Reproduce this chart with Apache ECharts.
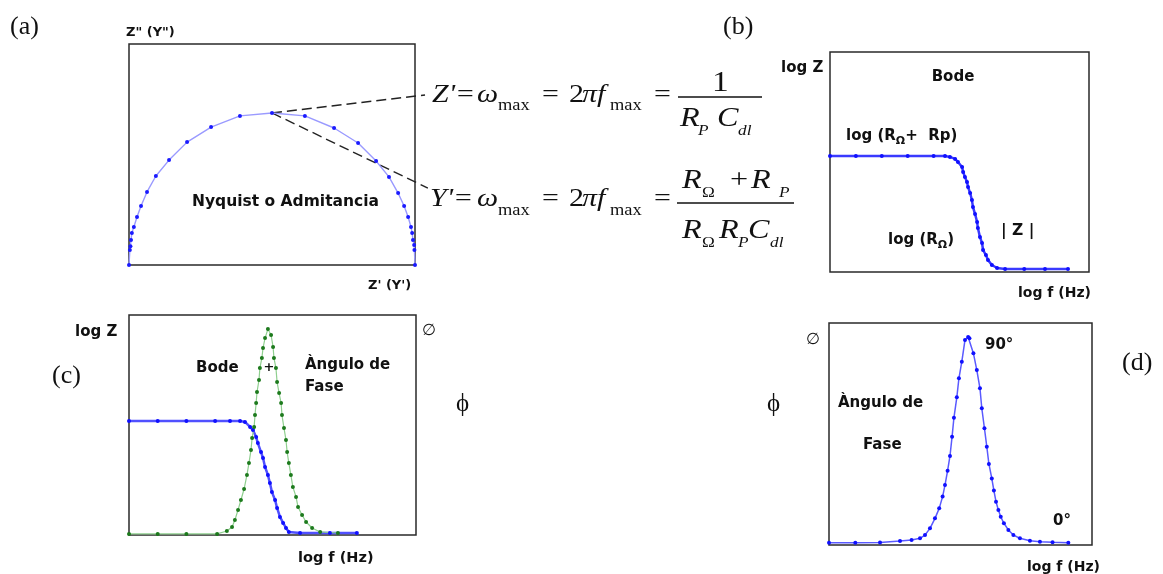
<!DOCTYPE html>
<html>
<head>
<meta charset="utf-8">
<script src="https://cdn.jsdelivr.net/npm/echarts@6/dist/echarts.min.js"></script>
<style>
html, body { margin: 0; padding: 0; background: #fff; }
#main { width: 1163px; height: 574px; }
</style>
</head>
<body>
<div id="main"></div>
<script>
// (a) Nyquist semicircle, [Z', Z'']
const nyquist = [
    [0, 0], [0.03, 0.51], [0.05, 0.64], [0.07, 0.85], [0.10, 1.09], [0.17, 1.29],
    [0.28, 1.63], [0.42, 2.00], [0.63, 2.48], [0.94, 3.02], [1.40, 3.56], [2.03, 4.17],
    [2.87, 4.68], [3.88, 5.06], [5.00, 5.16], [6.15, 5.06], [7.17, 4.65], [8.01, 4.14],
    [8.64, 3.53], [9.09, 2.99], [9.41, 2.44], [9.62, 2.00], [9.76, 1.63], [9.86, 1.29],
    [9.90, 1.09], [9.93, 0.85], [9.97, 0.68], [9.98, 0.51], [10, 0]
];
// dashed leaders from the top of the arc to the two formulas
const leaderZ = [[5.0, 5.16], [10.35, 5.77]];
const leaderY = [[5.0, 5.16], [10.45, 2.61]];

// (b) Bode |Z| vs log f
const bodeZ = [
    [0, 5.27], [1, 5.27], [2, 5.27], [3, 5.27], [4, 5.27], [4.44, 5.27], [4.63, 5.23],
    [4.83, 5.14], [4.94, 5.0], [5.10, 4.77], [5.14, 4.55], [5.21, 4.32], [5.29, 4.09],
    [5.33, 3.86], [5.41, 3.59], [5.48, 3.27], [5.52, 2.95], [5.60, 2.64], [5.68, 2.27],
    [5.71, 2.0], [5.79, 1.59], [5.87, 1.32], [5.91, 1.0], [6.02, 0.77], [6.10, 0.55],
    [6.25, 0.32], [6.45, 0.18], [6.76, 0.14], [7.5, 0.14], [8.3, 0.14], [9.19, 0.14]
];

// (c) Bode |Z| and phase angle together
const bodeZc = [
    [0, 5.18], [1, 5.18], [2, 5.18], [3, 5.18], [3.52, 5.18], [3.87, 5.18], [4.04, 5.14],
    [4.22, 4.91], [4.32, 4.77], [4.43, 4.45], [4.49, 4.18], [4.60, 3.77], [4.67, 3.5],
    [4.74, 3.09], [4.84, 2.73], [4.91, 2.36], [4.98, 1.95], [5.09, 1.59], [5.16, 1.23],
    [5.26, 0.82], [5.37, 0.55], [5.47, 0.32], [5.57, 0.14], [5.96, 0.09], [7.0, 0.09], [7.94, 0.09]
];
const phaseC = [
    [0, 0.05], [1, 0.05], [2, 0.05], [3.07, 0.05], [3.41, 0.18], [3.59, 0.36], [3.69, 0.68],
    [3.80, 1.14], [3.90, 1.59], [4.01, 2.09], [4.11, 2.73], [4.18, 3.27], [4.25, 3.86],
    [4.29, 4.41], [4.36, 4.91], [4.39, 5.45], [4.43, 6.0], [4.46, 6.5], [4.53, 7.05],
    [4.56, 7.59], [4.63, 8.05], [4.67, 8.5], [4.74, 8.95], [4.84, 9.36], [4.95, 9.09],
    [5.02, 8.55], [5.05, 8.05], [5.12, 7.59], [5.16, 6.95], [5.23, 6.45], [5.30, 6.0],
    [5.33, 5.45], [5.40, 4.86], [5.47, 4.32], [5.51, 3.77], [5.57, 3.27], [5.64, 2.73],
    [5.71, 2.18], [5.82, 1.73], [5.89, 1.27], [6.03, 0.91], [6.17, 0.59], [6.38, 0.32],
    [6.66, 0.14], [7.28, 0.09]
];

// (d) phase angle alone
const phaseD = [
    [0, 0.10], [1, 0.10], [1.94, 0.11], [2.70, 0.18], [3.14, 0.23], [3.46, 0.30], [3.65, 0.45],
    [3.84, 0.75], [4.03, 1.20], [4.19, 1.65], [4.32, 2.18], [4.41, 2.70], [4.51, 3.35],
    [4.60, 4.01], [4.68, 4.88], [4.75, 5.73], [4.86, 6.65], [4.94, 7.51], [5.05, 8.26],
    [5.17, 9.23], [5.29, 9.37], [5.34, 9.31], [5.49, 8.64], [5.62, 7.88], [5.74, 7.06],
    [5.81, 6.16], [5.91, 5.26], [6.00, 4.43], [6.08, 3.65], [6.19, 3.0], [6.27, 2.45],
    [6.35, 1.95], [6.44, 1.58], [6.53, 1.27], [6.65, 0.98], [6.82, 0.68], [7.01, 0.45],
    [7.26, 0.30], [7.64, 0.19], [8.02, 0.15], [8.5, 0.12], [9.10, 0.10]
];

const chart = echarts.init(document.getElementById('main'));

const SANS = '"DejaVu Sans", Verdana, sans-serif';
const SERIF = '"Liberation Serif", "Times New Roman", serif';

function txt(x, y, text, extra) {
    return {
        type: 'text', x: x, y: y, silent: true,
        style: Object.assign({
            text: text, fill: '#111', fontFamily: SANS, fontWeight: 'bold', fontSize: 15,
            align: 'left', verticalAlign: 'middle'
        }, extra || {})
    };
}
// one glyph group of a formula; it = italic
function m(x, y, text, size, it) {
    return {
        type: 'text', x: x, y: y, silent: true, scaleX: 1.15,
        style: {
            text: text, fill: '#111', fontFamily: SERIF, fontSize: size,
            fontStyle: it ? 'italic' : 'normal', align: 'left', verticalAlign: 'middle'
        }
    };
}
function bar(x1, x2, y) {
    return { type: 'line', silent: true, shape: { x1: x1, y1: y, x2: x2, y2: y },
        style: { stroke: '#111', lineWidth: 1.3 } };
}
const subRich = {
    b: { fontFamily: SANS, fontWeight: 'bold', fontSize: 15, lineHeight: 22, fill: '#111' },
    o: { fontFamily: SANS, fontWeight: 'bold', fontSize: 11, lineHeight: 11, verticalAlign: 'bottom', fill: '#111' }
};

// left half of a formula: "X'=ω_max = 2πf_max ="
function lhs(lead, x0, y, ySub) {
    return [
        m(x0, y, lead + '=', 26, true),
        m(477, y, 'ω', 26, true),
        m(498, ySub, 'max', 16, false),
        m(542, y, '=', 26, false),
        m(569, y, '2', 26, false),
        m(582, y, 'πf', 26, true),
        m(610, ySub, 'max', 16, false),
        m(654, y, '=', 26, false)
    ];
}

function grid(left, top, width, height, show) {
    return { left: left, top: top, width: width, height: height, show: show,
        borderColor: '#2a2a2a', borderWidth: 1.5, backgroundColor: 'transparent' };
}
function ax(i, max) {
    return { type: 'value', gridIndex: i, min: 0, max: max, show: false };
}
function curve(i, data, lineColor, dotColor, width) {
    return {
        type: 'line', xAxisIndex: i, yAxisIndex: i, data: data,
        symbol: 'circle', symbolSize: 4, showSymbol: true,
        itemStyle: { color: dotColor },
        lineStyle: { color: lineColor, width: width }
    };
}
// leaders live on a hidden grid with the same scale as (a) that reaches the formulas
function leader(data) {
    return {
        type: 'line', xAxisIndex: 4, yAxisIndex: 4, data: data, clip: false,
        symbol: 'none', lineStyle: { color: '#222', width: 1.4, type: [10, 5] }
    };
}

chart.setOption({
    animation: false,
    grid: [
        grid(129, 44, 286, 221, true),
        grid(830, 52, 259, 220, true),
        grid(129, 315, 287, 220, true),
        grid(829, 323, 263, 222, true),
        grid(129, 44, 311, 221, false)
    ],
    xAxis: [ax(0, 10), ax(1, 10), ax(2, 10), ax(3, 10), ax(4, 311 / 28.6)],
    yAxis: [ax(0, 7.5), ax(1, 10), ax(2, 10), ax(3, 10), ax(4, 7.5)],
    series: [
        leader(leaderZ),
        leader(leaderY),
        curve(0, nyquist, '#9a9aff', '#1a1aff', 1.4),
        curve(1, bodeZ, '#3a3aff', '#1010ff', 2.5),
        curve(2, bodeZc, '#5050ff', '#1010ff', 2.5),
        curve(2, phaseC, '#8fcf8f', '#1d7a1d', 1.2),
        curve(3, phaseD, '#5a5aff', '#1010ff', 1.5)
    ],
    graphic: [
        // panel tags
        txt(10, 27, '(a)', { fontFamily: SERIF, fontWeight: 'normal', fontSize: 26 }),
        txt(723, 27, '(b)', { fontFamily: SERIF, fontWeight: 'normal', fontSize: 26 }),
        txt(52, 376, '(c)', { fontFamily: SERIF, fontWeight: 'normal', fontSize: 26 }),
        txt(1122, 363, '(d)', { fontFamily: SERIF, fontWeight: 'normal', fontSize: 26 }),

        // (a)
        txt(126, 33, 'Z" (Y")', { fontSize: 13 }),
        txt(368, 286, "Z' (Y')", { fontSize: 13 }),
        txt(192, 202, 'Nyquist o Admitancia', { fontSize: 15.5 }),

        // formula for Z'
        ...lhs("Z'", 432, 95, 106),
        m(712, 83, '1', 29, false),
        bar(678, 762, 97),
        m(680, 119, 'R', 28, true),
        m(698, 131, 'P', 15, true),
        m(717, 119, 'C', 28, true),
        m(738, 131, 'dl', 15, true),

        // formula for Y'
        ...lhs("Y'", 430, 199, 211),
        m(682, 181, 'R', 28, true),
        m(702, 193, 'Ω', 15, false),
        m(730, 181, '+', 28, false),
        m(751, 181, 'R', 28, true),
        m(779, 193, 'P', 15, true),
        bar(677, 794, 203),
        m(682, 231, 'R', 28, true),
        m(702, 243, 'Ω', 15, false),
        m(719, 231, 'R', 28, true),
        m(738, 243, 'P', 15, true),
        m(748, 231, 'C', 28, true),
        m(770, 243, 'dl', 15, true),

        // (b)
        txt(781, 68, 'log Z'),
        txt(953, 77, 'Bode', { align: 'center' }),
        { type: 'text', x: 846, y: 136, silent: true,
          style: { text: '{b|log (R}{o|Ω}{b|+  Rp)}', rich: subRich, verticalAlign: 'middle' } },
        { type: 'text', x: 888, y: 240, silent: true,
          style: { text: '{b|log (R}{o|Ω}{b|)}', rich: subRich, verticalAlign: 'middle' } },
        txt(1001, 231, '| Z |', { fontSize: 15.5 }),
        txt(1091, 293, 'log f (Hz)', { align: 'right', fontSize: 14 }),

        // (c)
        txt(75, 332, 'log Z'),
        txt(196, 368, 'Bode'),
        txt(269, 368, '+', { align: 'center', fontSize: 13 }),
        txt(305, 365, 'Àngulo de'),
        txt(305, 387, 'Fase'),
        txt(422, 331, '∅', { fontWeight: 'normal', fontSize: 16 }),
        txt(456, 404, 'ϕ', { fontFamily: SERIF, fontWeight: 'normal', fontSize: 25 }),
        txt(298, 558, 'log f (Hz)', { fontSize: 14.5 }),

        // (d)
        txt(806, 340, '∅', { fontWeight: 'normal', fontSize: 16 }),
        txt(985, 345, '90°'),
        txt(767, 404, 'ϕ', { fontFamily: SERIF, fontWeight: 'normal', fontSize: 25 }),
        txt(838, 403, 'Àngulo de'),
        txt(863, 445, 'Fase'),
        txt(1053, 521, '0°'),
        txt(1100, 567, 'log f (Hz)', { align: 'right', fontSize: 14 })
    ]
});
</script>
</body>
</html>
